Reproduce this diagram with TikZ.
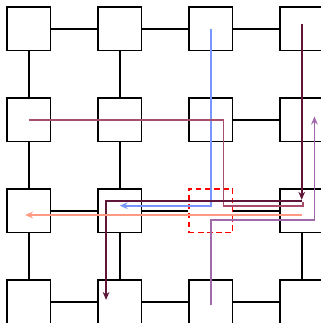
\documentclass[tikz,border=0pt]{standalone}
\usetikzlibrary{arrows.meta, positioning, calc}
\usepackage{xcolor}
\definecolor{flusso1}{RGB}{120,150,255}
\definecolor{flusso2}{RGB}{168,78,106}
\definecolor{flusso3}{RGB}{96,22,56}
\definecolor{flusso4}{RGB}{255,155,130}
\definecolor{flusso5}{RGB}{160,105,170}
\begin{document}
\begin{tikzpicture}[
  router/.style={draw=black, line width=1pt, minimum size=0.96cm, inner sep=0pt},
  guasto/.style={draw=red, line width=1pt, dash pattern=on 3.5pt off 2.2pt,
                 minimum size=0.96cm, inner sep=0pt},
  link/.style={draw=black, line width=1pt},
  percorso/.style={line width=1.1pt, -{Stealth[length=5pt,width=4.2pt]}}
]
\useasboundingbox (-0.631,0.631) rectangle (6.424,-6.468);

% router
\node[router] (n00) at (0,0)   {};
\node[router] (n10) at (2,0)   {};
\node[router] (n20) at (4,0)   {};
\node[router] (n30) at (6,0)   {};
\node[router] (n01) at (0,-2)  {};
\node[router] (n11) at (2,-2)  {};
\node[router] (n21) at (4,-2)  {};
\node[router] (n31) at (6,-2)  {};
\node[router] (n02) at (0,-4)  {};
\node[router] (n12) at (2,-4)  {};
\node[guasto] (n22) at (4,-4)  {};
\node[router] (n32) at (6,-4)  {};
\node[router] (n03) at (0,-6)  {};
\node[router] (n13) at (2,-6)  {};
\node[router] (n23) at (4,-6)  {};
\node[router] (n33) at (6,-6)  {};

% collegamenti
\draw[link] (n00) -- (n10);
\draw[link] (n10) -- (n20);
\draw[link] (n20) -- (n30);
\draw[link] (n21) -- (n31);
\draw[link] (n02) -- (n12);
\draw[link] (n12) -- (n22);
\draw[link] (n22) -- (n32);
\draw[link] (n03) -- (n13);
\draw[link] (n13) -- (n23);
\draw[link] (n23) -- (n33);
\draw[link] (n00) -- (n01);
\draw[link] (n01) -- (n02);
\draw[link] (n02) -- (n03);
\draw[link] (n10) -- (n11);
\draw[link] (n11) -- (n12);
\draw[link] (n12) -- (n13);
\draw[link] (n32) -- (n33);

% percorsi
\draw[percorso, flusso1] (n20.center) |- ([yshift=0.11cm]n12.center);
\draw[line width=1.1pt, flusso2] (n01.center) -- ([xshift=0.28cm]n21.center)
  |- ([xshift=0.03cm,yshift=0.11cm]n32.center) -- ([xshift=0.03cm,yshift=0.2cm]n32.center);
\draw[percorso, flusso3] ([yshift=0.1cm]n30.center) -- ([yshift=0.24cm]n32.center);
\draw[percorso, flusso3] ([yshift=0.21cm]n32.center) -| ([xshift=-0.3cm,yshift=0.04cm]n13.center);
\draw[percorso, flusso4] ([yshift=-0.095cm]n32.center) -- ([xshift=-0.08cm,yshift=-0.095cm]n02.center);
\draw[percorso, flusso5] ([yshift=-0.07cm]n23.center) |- ([xshift=0.28cm,yshift=-0.2cm]n32.center)
  -- ([xshift=0.28cm,yshift=0.07cm]n31.center);

\end{tikzpicture}
\end{document}
